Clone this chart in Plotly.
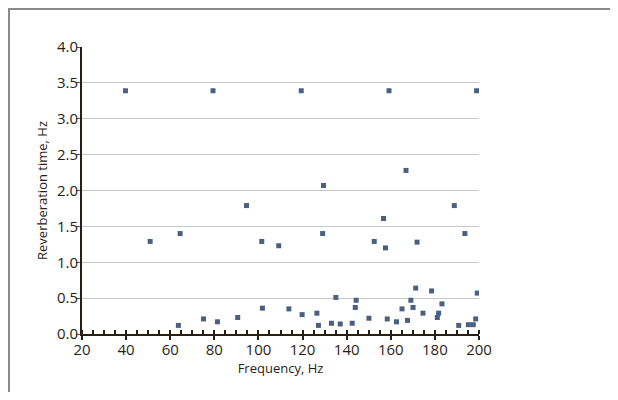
import plotly.graph_objects as go

# Frequency (Hz) and reverberation time
freq = [39.7, 79.4, 119.4, 159.2, 198.9,
        50.9, 64.5, 63.7, 75.1, 81.4, 90.6, 94.6, 101.5, 101.8, 109.2,
        113.8, 119.8, 126.5, 127.2, 129.1, 129.5, 133.1, 135.1, 137.1,
        142.5, 143.9, 144.3, 150.1, 152.5, 156.7, 157.6, 158.4, 162.6,
        165.1, 166.9, 167.6, 169.1, 170.1, 171.3, 171.9, 174.6, 178.5,
        181.1, 181.7, 183.2, 188.8, 190.8, 193.6, 195.2, 197.4, 198.5, 199.2]
rt = [3.39, 3.39, 3.39, 3.39, 3.39,
      1.29, 1.40, 0.12, 0.21, 0.17, 0.23, 1.79, 1.29, 0.36, 1.23,
      0.35, 0.27, 0.29, 0.12, 1.40, 2.07, 0.15, 0.51, 0.14,
      0.15, 0.37, 0.47, 0.22, 1.29, 1.61, 1.20, 0.21, 0.17,
      0.35, 2.28, 0.19, 0.47, 0.37, 0.64, 1.28, 0.29, 0.60,
      0.23, 0.29, 0.42, 1.79, 0.12, 1.40, 0.13, 0.13, 0.21, 0.57]

# the page body has an 8px margin, so the figure is smaller and shifted
W, H = 602, 384
L, T = 74, 39
pw, ph = 397, 287
R, B = W - L - pw, H - T - ph

def px(x):
    return (x - L) / pw

def py(y):
    return (H - B - y) / ph

ink = "#2a1e14"
font = dict(family="Open Sans", size=14, color=ink)

fig = go.Figure()
fig.add_trace(go.Scatter(
    x=freq, y=rt, mode="markers",
    marker=dict(symbol="square", size=5, color="#4b5f82"),
    showlegend=False,
))

fig.update_layout(
    width=W, height=H,
    margin=dict(l=L, r=R, t=T, b=B),
    paper_bgcolor="white", plot_bgcolor="white",
    font=font,
    shapes=[
        # outer frame: top and left edges
        dict(type="line", xref="paper", yref="paper",
             x0=px(0), x1=px(W + 10), y0=py(1), y1=py(1),
             line=dict(color="#8a8a8a", width=2)),
        dict(type="line", xref="paper", yref="paper",
             x0=px(1), x1=px(1), y0=py(0), y1=py(H + 10),
             line=dict(color="#8a8a8a", width=2)),
    ],
)

fig.update_xaxes(
    range=[20, 200], dtick=20, tick0=20,
    showgrid=False, zeroline=False,
    showline=True, linecolor=ink, linewidth=2,
    ticks="outside", ticklen=4, tickcolor=ink, tickwidth=1.5,
    minor=dict(dtick=5, ticks="inside", ticklen=4, tickcolor=ink, tickwidth=1.5),
    tickfont=dict(size=15), ticklabelstandoff=-3,
    title=dict(text="Frequency, Hz", font=dict(size=13), standoff=2),
)
fig.update_yaxes(
    range=[0, 4], dtick=0.5, tickformat=".1f",
    showgrid=True, gridcolor="#c8c8c8", gridwidth=1,
    zeroline=False,
    showline=True, linecolor=ink, linewidth=2,
    ticks="outside", ticklen=4, tickcolor="#555555", tickwidth=1,
    tickfont=dict(size=15), ticklabelstandoff=-5,
    title=dict(text="Reverberation time, Hz", font=dict(size=13), standoff=6),
)

fig.write_html("out.html", config={"displayModeBar": False})
